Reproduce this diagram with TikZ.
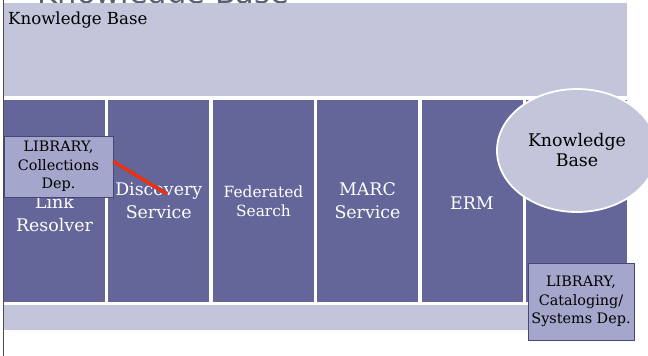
\documentclass[tikz,border=0pt]{standalone}
\usepackage{fontspec}
\setmainfont{DejaVu Serif}
\newfontfamily\slidefont{DejaVu Serif}
\newfontfamily\bannerfont{DejaVu Sans}
\usetikzlibrary{shapes.geometric}
\definecolor{bandlilac}{HTML}{C3C5DA}
\definecolor{colpurple}{HTML}{646699}
\definecolor{boxlilac}{HTML}{A4A6CB}
\definecolor{boxedge}{HTML}{45477A}
\definecolor{edgegray}{HTML}{4A4A4A}
\definecolor{bannergray}{HTML}{5E5E6E}
\definecolor{linkred}{HTML}{FF2A00}

\begin{document}
\begin{tikzpicture}[
  x=1pt,y=-1pt,
  line cap=butt,line join=miter,
  band/.style={fill=bandlilac,inner sep=0pt},
  column/.style={fill=colpurple,minimum width=101pt,minimum height=202pt,inner sep=0pt},
  collabel/.style={align=center,text=white,inner sep=0pt,
                   font=\slidefont\fontsize{17.4}{23}\selectfont},
  deptbox/.style={draw=boxedge,line width=.9pt,fill=boxlilac,inner sep=0pt,
                  align=center,font=\slidefont\fontsize{14.4}{18.5}\selectfont},
  kbcloud/.style={ellipse,draw=white,line width=1.8pt,fill=bandlilac,
                  minimum width=160pt,minimum height=123pt,inner sep=0pt,
                  align=center,font=\slidefont\fontsize{17.4}{20}\selectfont},
  pointer/.style={draw=linkred,line width=3pt,
                  preaction={draw=boxedge!85,line width=4.4pt}}
]
\useasboundingbox (0,0) rectangle (648,356);
\clip (0,0) rectangle (648,356);

% slide title, cut by the top edge
\node[anchor=base,inner sep=0pt,text=bannergray,
      font=\bannerfont\fontsize{30.5}{30}\selectfont] (banner) at (163.5,3) {Knowledge Base};

\node[band,minimum width=623pt,minimum height=93pt,anchor=north west] (kb) at (4,3) {};
\node[anchor=base west,inner sep=0pt,font=\slidefont\fontsize{16.6}{20}\selectfont] (kblabel)
  at (8,24) {Knowledge Base};

\foreach \n/\x in {link/54.5,disc/158.75,fed/263.5,marc/367.5,erm/472,atoz/576.5}{
  \node[column] (\n) at (\x,201) {};
}
\node[collabel] (linktext) at ([yshift=-13pt]link.center) {Link\\Resolver};
\node[collabel] (disctext) at (disc.center) {Discovery\\Service};
\node[collabel,font=\slidefont\fontsize{15.4}{19}\selectfont] (fedtext) at (fed.center)
  {Federated\\Search};
\node[collabel] (marctext) at (marc.center) {MARC\\Service};
\node[collabel] (ermtext) at ([yshift=-2pt]erm.center) {ERM};

\node[band,minimum width=623pt,minimum height=25pt] (base) at (315.5,317.5) {};
\draw[edgegray,line width=1pt] (3.5,0) -- (3.5,356);

\node[deptbox,minimum width=109pt,minimum height=61pt] (collect) at (58.5,166.5)
  {LIBRARY,\\Collections\\Dep.};
\coordinate (discpoint) at (167,194);
\draw[pointer] ([yshift=5pt]collect.east) -- (discpoint);

\node[kbcloud] (kbnode) at (577,150.5) {Knowledge\\Base};

\node[deptbox,minimum width=106pt,minimum height=77pt] (catalog) at (581,301.5)
  {LIBRARY,\\Cataloging/\\Systems Dep.};
\end{tikzpicture}
\end{document}
